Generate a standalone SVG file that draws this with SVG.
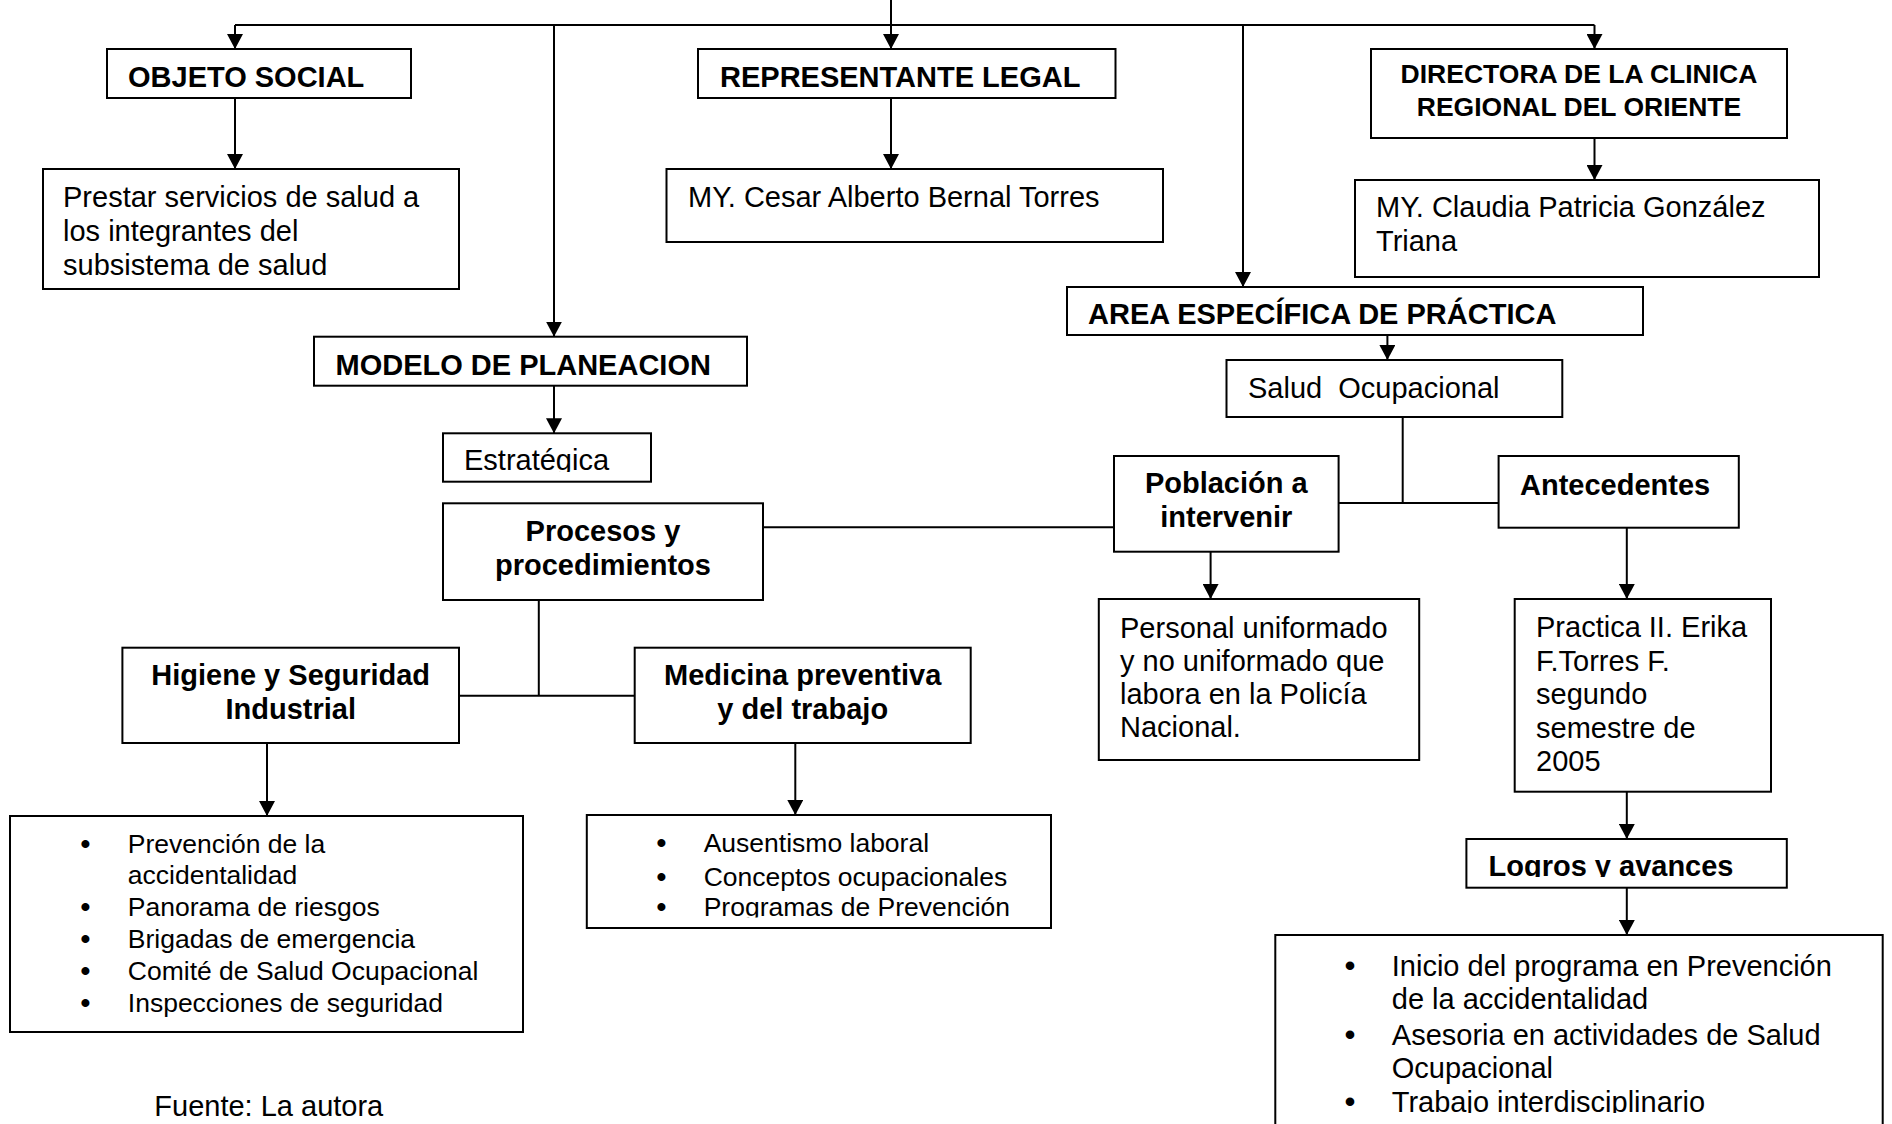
<svg xmlns="http://www.w3.org/2000/svg" width="1892" height="1124" viewBox="0 0 1892 1124">
<style>
.box{fill:#fff;stroke:#000;stroke-width:2}
.ln{fill:none;stroke:#000;stroke-width:2}
.arr{fill:none;stroke:#000;stroke-width:2;marker-end:url(#ah)}
text{font-family:"Liberation Sans",Arial,sans-serif;fill:#000}
.t{font-size:29px}
.b{font-size:29px;font-weight:bold}
.s{font-size:26.5px}
.c{text-anchor:middle}
.bu{font-size:28px;text-anchor:middle;font-weight:bold}
.bu2{font-size:30px;text-anchor:middle;font-weight:bold}
</style>
<defs>
<marker id="ah" markerUnits="userSpaceOnUse" markerWidth="15" markerHeight="16" refX="15" refY="8" orient="auto"><path d="M0,0 L15,8 L0,16 z" fill="#000"/></marker>
<clipPath id="clipEstr"><rect x="440" y="430" width="215" height="42"/></clipPath>
<clipPath id="clipProg"><rect x="580" y="800" width="480" height="117.5"/></clipPath>
<clipPath id="clipLogros"><rect x="1460" y="835" width="330" height="42"/></clipPath>
<clipPath id="clipTrab"><rect x="1270" y="930" width="620" height="183"/></clipPath>
</defs>
<rect width="1892" height="1124" fill="#fff"/>
<g id="connectors">
<line class="ln" x1="235" y1="25" x2="1594.5" y2="25"/>
<line class="arr" x1="891" y1="0" x2="891" y2="49"/>
<line class="arr" x1="235" y1="25" x2="235" y2="49"/>
<line class="arr" x1="554" y1="25" x2="554" y2="336.7"/>
<line class="arr" x1="1243" y1="25" x2="1243" y2="287"/>
<line class="arr" x1="1594.5" y1="25" x2="1594.5" y2="49"/>
<line class="arr" x1="235" y1="98" x2="235" y2="169"/>
<line class="arr" x1="891" y1="98" x2="891" y2="169"/>
<line class="arr" x1="1594.5" y1="138" x2="1594.5" y2="180"/>
<line class="arr" x1="554" y1="385.7" x2="554" y2="433.3"/>
<line class="arr" x1="1387.4" y1="335" x2="1387.4" y2="360"/>
<line class="ln" x1="1402.7" y1="407" x2="1402.7" y2="503"/>
<line class="ln" x1="1338.6" y1="503" x2="1498.6" y2="503"/>
<line class="ln" x1="763" y1="527.3" x2="1114" y2="527.3"/>
<line class="arr" x1="1210.6" y1="551.7" x2="1210.6" y2="599"/>
<line class="arr" x1="1626.8" y1="527.7" x2="1626.8" y2="599"/>
<line class="ln" x1="538.8" y1="600" x2="538.8" y2="695.7"/>
<line class="ln" x1="459" y1="695.7" x2="634.7" y2="695.7"/>
<line class="arr" x1="267" y1="743" x2="267" y2="816"/>
<line class="arr" x1="795.3" y1="743" x2="795.3" y2="815"/>
<line class="arr" x1="1626.8" y1="791.7" x2="1626.8" y2="839"/>
<line class="arr" x1="1626.8" y1="887.7" x2="1626.8" y2="935"/>
</g>
<g id="objeto-social">
<rect class="box" x="107" y="49" width="304" height="49"/>
<text class="b" x="128" y="87">OBJETO SOCIAL</text>
</g>
<g id="prestar">
<rect class="box" x="43" y="169" width="416" height="120"/>
<text class="t" x="63" y="207">Prestar servicios de salud a</text>
<text class="t" x="63" y="241">los integrantes del</text>
<text class="t" x="63" y="275">subsistema de salud</text>
</g>
<g id="representante-legal">
<rect class="box" x="698" y="49" width="417.5" height="49"/>
<text class="b" x="720" y="87">REPRESENTANTE LEGAL</text>
</g>
<g id="cesar">
<rect class="box" x="666.5" y="169" width="496.5" height="73"/>
<text class="t" x="688" y="207">MY. Cesar Alberto Bernal Torres</text>
</g>
<g id="directora">
<rect class="box" x="1371" y="49" width="416" height="89"/>
<text class="b c" x="1579" y="83" style="font-size:26.5px">DIRECTORA DE LA CLINICA</text>
<text class="b c" x="1579" y="115.5" style="font-size:26.5px">REGIONAL DEL ORIENTE</text>
</g>
<g id="claudia">
<rect class="box" x="1355" y="180" width="464" height="97"/>
<text class="t" x="1376" y="217">MY. Claudia Patricia González</text>
<text class="t" x="1376" y="251">Triana</text>
</g>
<g id="area-especifica">
<rect class="box" x="1067" y="287" width="576" height="48"/>
<text class="b" x="1088" y="324">AREA ESPECÍFICA DE PRÁCTICA</text>
</g>
<g id="salud-ocupacional">
<rect class="box" x="1226.5" y="360" width="335.8" height="57"/>
<text class="t" x="1248" y="398" style="white-space:pre">Salud  Ocupacional</text>
</g>
<g id="modelo-planeacion">
<rect class="box" x="314" y="336.7" width="433" height="49"/>
<text class="b" x="335.5" y="375">MODELO DE PLANEACION</text>
</g>
<g id="estrategica">
<rect class="box" x="443" y="433.3" width="208" height="48.4"/>
<text class="t" x="464" y="470" clip-path="url(#clipEstr)">Estratégica</text>
</g>
<g id="procesos">
<rect class="box" x="443" y="503.3" width="320" height="96.7"/>
<text class="b c" x="603" y="541">Procesos y</text>
<text class="b c" x="603" y="575">procedimientos</text>
</g>
<g id="poblacion">
<rect class="box" x="1114" y="456" width="224.6" height="95.7"/>
<text class="b c" x="1226.3" y="493">Población a</text>
<text class="b c" x="1226.3" y="527">intervenir</text>
</g>
<g id="antecedentes">
<rect class="box" x="1498.6" y="456" width="240.2" height="71.7"/>
<text class="b" x="1520" y="494.5">Antecedentes</text>
</g>
<g id="personal">
<rect class="box" x="1098.8" y="599" width="320.4" height="161"/>
<text class="t" x="1120" y="637.5">Personal uniformado</text>
<text class="t" x="1120" y="670.5">y no uniformado que</text>
<text class="t" x="1120" y="703.5">labora en la Policía</text>
<text class="t" x="1120" y="737">Nacional.</text>
</g>
<g id="practica">
<rect class="box" x="1514.7" y="599" width="256.3" height="192.7"/>
<text class="t" x="1536" y="637">Practica II. Erika</text>
<text class="t" x="1536" y="670.5">F.Torres F.</text>
<text class="t" x="1536" y="704">segundo</text>
<text class="t" x="1536" y="737.5">semestre de</text>
<text class="t" x="1536" y="771">2005</text>
</g>
<g id="higiene">
<rect class="box" x="122.4" y="647.7" width="336.6" height="95.3"/>
<text class="b c" x="290.7" y="685">Higiene y Seguridad</text>
<text class="b c" x="290.7" y="719">Industrial</text>
</g>
<g id="medicina">
<rect class="box" x="634.7" y="647.7" width="336" height="95.3"/>
<text class="b c" x="802.7" y="685">Medicina preventiva</text>
<text class="b c" x="802.7" y="719">y del trabajo</text>
</g>
<g id="higiene-lista">
<rect class="box" x="10" y="816" width="513" height="216"/>
<text class="bu" x="85.3" y="852.5">•</text>
<text class="s" x="127.8" y="852.5">Prevención de la</text>
<text class="s" x="127.8" y="884">accidentalidad</text>
<text class="bu" x="85.3" y="916">•</text>
<text class="s" x="127.8" y="916">Panorama de riesgos</text>
<text class="bu" x="85.3" y="947.5">•</text>
<text class="s" x="127.8" y="947.5">Brigadas de emergencia</text>
<text class="bu" x="85.3" y="979.5">•</text>
<text class="s" x="127.8" y="979.5">Comité de Salud Ocupacional</text>
<text class="bu" x="85.3" y="1011.5">•</text>
<text class="s" x="127.8" y="1011.5">Inspecciones de seguridad</text>
</g>
<g id="medicina-lista">
<rect class="box" x="586.8" y="815" width="464.2" height="113"/>
<text class="bu" x="661.3" y="852">•</text>
<text class="s" x="703.7" y="852">Ausentismo laboral</text>
<text class="bu" x="661.3" y="885.5">•</text>
<text class="s" x="703.7" y="885.5">Conceptos ocupacionales</text>
<g clip-path="url(#clipProg)">
<text class="bu" x="661.3" y="916">•</text>
<text class="s" x="703.7" y="916">Programas de Prevención</text>
</g>
</g>
<g id="logros">
<rect class="box" x="1466.4" y="839" width="320.4" height="48.7"/>
<text class="b" x="1488.5" y="876" clip-path="url(#clipLogros)">Logros y avances</text>
</g>
<g id="logros-lista">
<rect class="box" x="1275.3" y="935" width="607.4" height="200"/>
<g clip-path="url(#clipTrab)">
<text class="bu2" x="1350" y="976">•</text>
<text class="t" x="1391.8" y="976">Inicio del programa en Prevención</text>
<text class="t" x="1391.8" y="1009">de la accidentalidad</text>
<text class="bu2" x="1350" y="1045">•</text>
<text class="t" x="1391.8" y="1045">Asesoria en actividades de Salud</text>
<text class="t" x="1391.8" y="1078">Ocupacional</text>
<text class="bu2" x="1350" y="1112">•</text>
<text class="t" x="1391.8" y="1112">Trabajo interdisciplinario</text>
</g>
</g>
<g id="fuente">
<text class="t" x="154.3" y="1116">Fuente: La autora</text>
</g>
</svg>
